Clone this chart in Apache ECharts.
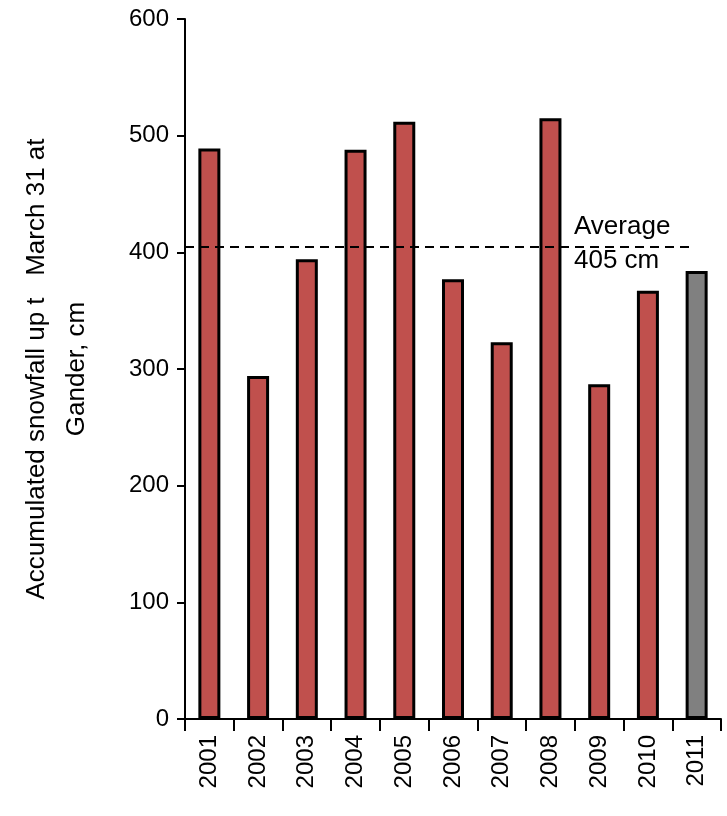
<!DOCTYPE html>
<html><head><meta charset="utf-8">
<script src="https://cdn.jsdelivr.net/npm/echarts@6/dist/echarts.min.js"></script>
<style>html,body{margin:0;padding:0;background:#fff}#c{width:727px;height:816px}</style>
</head><body><div id="c"></div>
<script>
const years = ['2001','2002','2003','2004','2005','2006','2007','2008','2009','2010','2011'];
const snowfall = [489, 294, 394, 488, 512, 377, 323, 515, 287, 367, 384];
const average = 405;
const yTicks = [0,100,200,300,400,500,600];

const chart = echarts.init(document.getElementById('c'));
const font = '"Liberation Sans", Arial, sans-serif';
chart.setOption({
  animation: false,
  grid: {left: 185, right: 6, top: 19, bottom: 97, containLabel: false, outerBoundsMode: 'none'},
  xAxis: {
    type: 'category', data: years,
    axisLine: {lineStyle: {color: '#000', width: 2}},
    axisTick: {show: true, length: 12, lineStyle: {color: '#000', width: 2}},
    axisLabel: {rotate: 90, color: '#000', fontSize: 24, fontFamily: font, margin: 16}
  },
  yAxis: {
    type: 'value', min: 0, max: 600, interval: 100,
    name: 'Accumulated snowfall up t   March 31 at\nGander, cm',
    nameLocation: 'middle', nameGap: 88, nameRotate: 90,
    nameTextStyle: {color: '#000', fontSize: 26, fontFamily: font, lineHeight: 40},
    axisLine: {show: true, lineStyle: {color: '#000', width: 2}},
    axisTick: {show: true, inside: false, length: 8, lineStyle: {color: '#000', width: 2}},
    axisLabel: {color: '#000', fontSize: 24, fontFamily: font, margin: 16},
    splitLine: {show: false}
  },
  series: [{
    type: 'bar', barWidth: 22,
    data: snowfall.map((v, i) => ({value: v, itemStyle: {color: i === years.length - 1 ? '#808080' : '#C0504D'}})),
    itemStyle: {borderColor: '#000', borderWidth: 3},
    markLine: {
      symbol: 'none', silent: true,
      lineStyle: {color: '#000', type: [9, 6], width: 2},
      label: {show: false},
      data: [[{x: 185, yAxis: average}, {x: 695, yAxis: average}]]
    }
  }],
  graphic: [{
    type: 'text', left: 574, top: 210,
    style: {text: 'Average\n' + average + ' cm', fill: '#000', fontSize: 26, fontFamily: font, lineHeight: 34}
  }]
});
</script></body></html>
